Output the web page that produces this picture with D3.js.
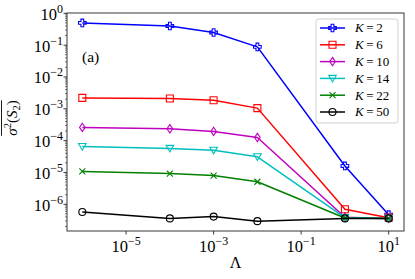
<!DOCTYPE html>
<html><head><meta charset="utf-8">
<script src="https://cdn.jsdelivr.net/npm/d3@7"></script>
<style>body{margin:0;background:#fff}svg{display:block}</style>
</head><body><svg id="c" width="415" height="279" font-family="'Liberation Serif', 'DejaVu Serif', serif"></svg>
<script>
const lambdas = [1e-6, 1e-4, 1e-3, 1e-2, 1, 10];
const seriesK = [2, 6, 10, 14, 22, 50];
const valsK2  = [0.5, 0.4, 0.25, 0.088, 1.6e-5, 4.7e-7];
const valsK6  = [2.2e-3, 2.1e-3, 1.85e-3, 1.05e-3, 7e-7, 3.8e-7];
const valsK10 = [2.6e-4, 2.35e-4, 1.95e-4, 1.25e-4, 3.9e-7, 3.6e-7];
const valsK14 = [6.5e-5, 5.7e-5, 5.0e-5, 3.1e-5, 3.8e-7, 3.6e-7];
const valsK22 = [1.08e-5, 9.2e-6, 8.0e-6, 5.1e-6, 3.7e-7, 3.6e-7];
const valsK50 = [5.7e-7, 3.6e-7, 4.1e-7, 2.95e-7, 3.6e-7, 3.6e-7];
const xTickExps = [-5, -3, -1, 1];
const yTickExps = [0, -1, -2, -3, -4, -5, -6];

const colors = ["#0000ff", "#ff0000", "#bf00bf", "#00bfbf", "#008000", "#000000"];
const markers = ["plus", "square", "diamond", "tridown", "x", "circle"];
const allVals = [valsK2, valsK6, valsK10, valsK14, valsK22, valsK50];

const svg = d3.select("#c");
const L = 67, R = 404, T = 13, B = 231;
const x = d3.scaleLog().domain([Math.pow(10, -6.35), Math.pow(10, 1.35)]).range([L, R]);
const y = d3.scaleLog().domain([Math.pow(10, -6.84), Math.pow(10, 0.01)]).range([B, T]);

function markerPath(type) {
  switch (type) {
    case "plus": { const a = 1.4, b = 3.8;
      return `M${-a},${-b}H${a}V${-a}H${b}V${a}H${a}V${b}H${-a}V${a}H${-b}V${-a}H${-a}Z`; }
    case "square": return "M-3.5,-3.5H3.5V3.5H-3.5Z";
    case "diamond": return "M0,-4.2L2.8,0L0,4.2L-2.8,0Z";
    case "tridown": return "M-3.8,-3L3.8,-3L0,3.6Z";
    case "x": return "M-3,-3L3,3M-3,3L3,-3";
    case "circle": return "M3.5,0A3.5,3.5 0 1,1 -3.5,0A3.5,3.5 0 1,1 3.5,0Z";
  }
}

const line = d3.line().x((d, i) => x(lambdas[i])).y(d => y(d));
allVals.forEach((vals, si) => {
  const g = svg.append("g");
  g.append("path").attr("d", line(vals)).attr("fill", "none")
    .attr("stroke", colors[si]).attr("stroke-width", 1.5).attr("stroke-linejoin", "round");
  vals.forEach((v, i) => {
    g.append("path").attr("d", markerPath(markers[si]))
      .attr("transform", `translate(${x(lambdas[i])},${y(v)})`)
      .attr("fill", "none").attr("stroke", colors[si]).attr("stroke-width", 1.1);
  });
});

svg.append("rect").attr("x", L).attr("y", T).attr("width", R - L).attr("height", B - T)
  .attr("fill", "none").attr("stroke", "#222").attr("stroke-width", 0.9);

xTickExps.forEach(e => {
  const px = x(Math.pow(10, e));
  svg.append("line").attr("x1", px).attr("x2", px).attr("y1", B).attr("y2", B + 3.5)
    .attr("stroke", "#222").attr("stroke-width", 0.9);
  const t = svg.append("text").attr("x", px).attr("y", B + 21).attr("text-anchor", "middle").attr("font-size", 16.5);
  t.append("tspan").text("10");
  t.append("tspan").attr("dy", -7).attr("font-size", 12).text((e < 0 ? "\u2212" : "") + Math.abs(e));
});

yTickExps.forEach(e => {
  const py = y(Math.pow(10, e));
  svg.append("line").attr("x1", L - 3.5).attr("x2", L).attr("y1", py).attr("y2", py)
    .attr("stroke", "#222").attr("stroke-width", 0.9);
  const t = svg.append("text").attr("x", L - 4).attr("y", py + 6.5).attr("text-anchor", "end").attr("font-size", 16.5);
  t.append("tspan").text("10");
  t.append("tspan").attr("dy", -7).attr("font-size", 12).text((e < 0 ? "\u2212" : "") + Math.abs(e));
});
const [ymin, ymax] = y.domain();
for (let e = -7; e <= 0; e++) {
  for (let m = 2; m <= 9; m++) {
    const v = m * Math.pow(10, e);
    if (v < ymin || v > ymax) continue;
    const py = y(v);
    svg.append("line").attr("x1", L - 2).attr("x2", L).attr("y1", py).attr("y2", py)
      .attr("stroke", "#222").attr("stroke-width", 0.6);
  }
}

svg.append("text").attr("x", (L + R) / 2).attr("y", 268).attr("text-anchor", "middle")
  .attr("font-size", 16).text("\u039B");

const yl = svg.append("g").attr("transform", `translate(17,${(T + B) / 2 - 4}) rotate(-90)`);
const yt = yl.append("text").attr("text-anchor", "middle").attr("font-size", 15);
yt.append("tspan").attr("font-style", "italic").text("\u03C3");
yt.append("tspan").attr("dy", -6).attr("font-size", 10.5).text("2");
yt.append("tspan").attr("dy", 6).text("(");
yt.append("tspan").attr("font-style", "italic").text("S");
yt.append("tspan").attr("dy", 3).attr("font-size", 10.5).text("2");
yt.append("tspan").attr("dy", -3).text(")");
const bb = yt.node().getBBox();
yl.append("line").attr("x1", bb.x).attr("x2", bb.x + bb.width).attr("y1", bb.y - 0.5).attr("y2", bb.y - 0.5)
  .attr("stroke", "#000").attr("stroke-width", 0.9);

svg.append("text").attr("x", 82).attr("y", 62).attr("font-size", 15.5).text("(a)");

const lg = svg.append("g");
lg.append("rect").attr("x", 316).attr("y", 19).attr("width", 82).attr("height", 104).attr("rx", 2.5)
  .attr("fill", "#fff").attr("fill-opacity", 0.8).attr("stroke", "#ccc").attr("stroke-width", 0.9);
seriesK.forEach((k, i) => {
  const cy = 28 + i * 16.8;
  lg.append("line").attr("x1", 320).attr("x2", 345).attr("y1", cy).attr("y2", cy)
    .attr("stroke", colors[i]).attr("stroke-width", 1.5);
  lg.append("path").attr("d", markerPath(markers[i])).attr("transform", `translate(332.5,${cy})`)
    .attr("fill", "none").attr("stroke", colors[i]).attr("stroke-width", 1.1);
  const t = lg.append("text").attr("x", 355).attr("y", cy + 4.3).attr("font-size", 13);
  t.append("tspan").attr("font-style", "italic").text("K");
  t.append("tspan").text("\u2009=\u2009" + k);
});
</script></body></html>
